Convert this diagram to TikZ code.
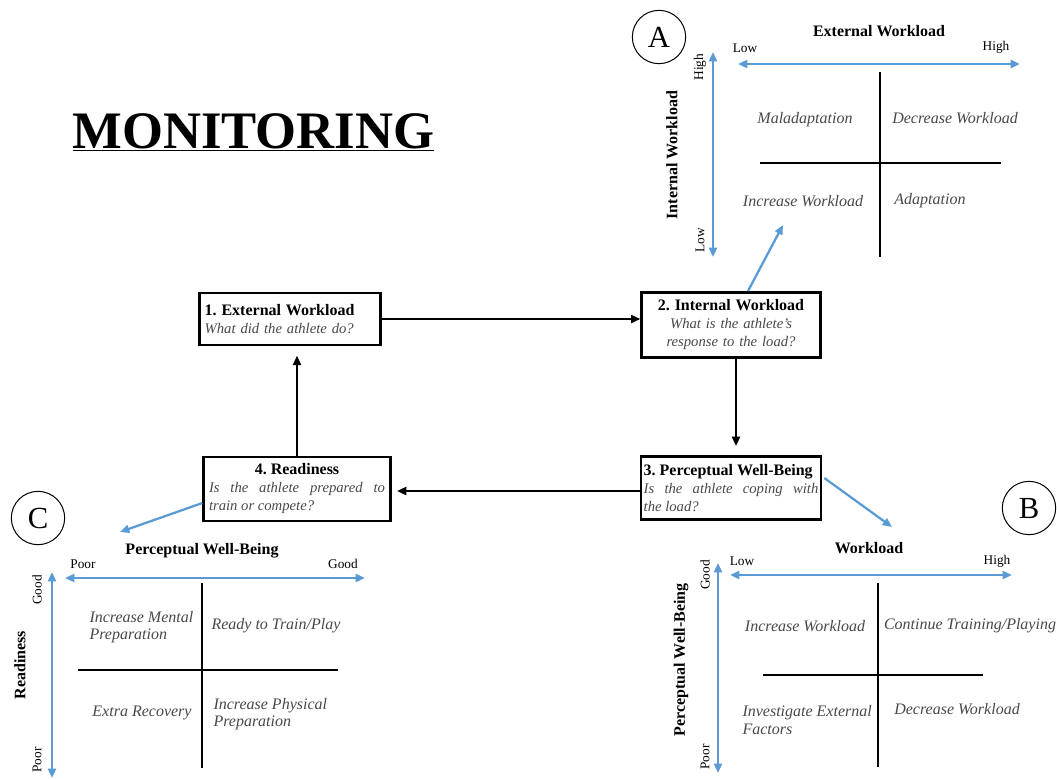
\documentclass[tikz,border=0pt]{standalone}
\usepackage{fontspec}
\setmainfont{Liberation Serif}
\usetikzlibrary{arrows.meta}
\usetikzlibrary{calc}
\frenchspacing
\definecolor{axisblue}{RGB}{91,155,213}
\definecolor{quadgray}{RGB}{72,72,72}
\newcommand{\boxhead}[1]{{\fontsize{12}{13.5}\selectfont\bfseries #1}}
\newcommand{\boxq}[1]{{\fontsize{11}{13.5}\selectfont\itshape\color{quadgray}#1}}
\tikzset{every picture/.style={line width=0.75pt}}
\tikzset{
  loopbox/.style={draw, line width=2pt, inner xsep=4pt, inner ysep=3pt, font=\fontsize{11}{13.5}\selectfont},
  loopline/.style={line width=1.6pt, -{Triangle[length=7pt,width=6pt]}},
  bluearrow/.style={axisblue, line width=1.7pt, -{Triangle[length=7pt,width=6pt]}},
  axis/.style={axisblue, line width=1.7pt, {Triangle[length=7pt,width=6pt]}-{Triangle[length=7pt,width=6pt]}},
  quadline/.style={line width=1.8pt},
  quadtext/.style={inner sep=0.75pt, font=\fontsize{12}{13}\selectfont\itshape, text=quadgray},
  axistitle/.style={inner sep=0.75pt, font=\fontsize{12}{13}\selectfont\bfseries},
  axisend/.style={inner sep=0.75pt, font=\fontsize{10}{11}\selectfont},
  tag/.style={draw, circle, minimum size=40pt, inner sep=0pt, font=\fontsize{23}{24}\selectfont}
}

\begin{document}
\begin{tikzpicture}[x=0.75pt,y=0.75pt,yscale=-1,xscale=1]
\useasboundingbox (0,0) rectangle (1057,779);

% Title
\node [anchor=base west, inner sep=0pt, font=\fontsize{39.5}{41}\selectfont\bfseries] (title) at (72,148) {\underline{MONITORING}};

% Loop boxes
\node [loopbox, text width=128pt, minimum height=39pt, align=left] (ext) at (290,319) {\boxhead{1. External Workload}\\\boxq{What did the athlete do?}};
\node [loopbox, text width=126pt, minimum height=49pt, align=center] (int) at (731,325) {\boxhead{2. Internal Workload}\\\boxq{What is the athlete's\\response to the load?}};
\node [loopbox, inner xsep=2pt, text width=131pt, minimum height=47pt, align=justify] (well) at (731,488) {\boxhead{3. Perceptual Well-Being}\\\boxq{Is the athlete coping with\linebreak the load?}};
\node [loopbox, text width=132pt, minimum height=48pt, align=justify] (ready) at (297,489) {{\centering\boxhead{4. Readiness}\par}\boxq{Is the athlete prepared to\linebreak train or compete?}};

% Loop arrows
\coordinate (intS) at ($(int.south)+(5,0)$);
\coordinate (wellW) at ($(well.west)+(0,3)$);
\draw [loopline] (ext.east) -- (ext.east -| int.west);
\draw [loopline, shorten >=7pt] (intS) -- (intS |- well.north);
\draw [loopline, shorten >=4pt] (wellW) -- (wellW -| ready.east);
\draw [loopline, shorten >=7pt] (ready.north) -- (ready.north |- ext.south);

% Links to the quadrants
\coordinate (toA) at (783,225);
\coordinate (toB) at (892,527);
\coordinate (toC) at (120,532);
\draw [bluearrow] ($(int.north)+(17,0)$) -- (toA);
\draw [bluearrow] ($(well.east)+(2,-10)$) -- (toB);
\draw [bluearrow] ($(ready.west)+(0,14)$) -- (toC);

% Quadrant A
\node [tag] (tagA) at (659,37) {A};
\node [axistitle] (aTitle) at (879,31) {External Workload};
\node [axisend] (aLow) at (745,48) {Low};
\node [axisend] (aHigh) at (996,47) {High};
\coordinate (aL) at (738,64);
\coordinate (aR) at (1020,64);
\draw [axis] (aL) -- (aR);
\coordinate (aT) at (713,52);
\coordinate (aB) at (713,257);
\draw [axis] (aT) -- (aB);
\node [axisend, rotate=90] (aVHigh) at (700,67) {High};
\node [axisend, rotate=90] (aVLow) at (700,240) {Low};
\node [axistitle, rotate=90] (aSide) at (672,155) {Internal Workload};
\coordinate (aV1) at (880,72);
\coordinate (aV2) at (880,257);
\coordinate (aH1) at (760,163);
\coordinate (aH2) at (1001,163);
\draw [quadline] (aV1) -- (aV2);
\draw [quadline] (aH1) -- (aH2);
\node [quadtext] (aq1) at (805,120) {Maladaptation};
\node [quadtext] (aq2) at (955,118) {Decrease Workload};
\node [quadtext] (aq3) at (803,201) {Increase Workload};
\node [quadtext] (aq4) at (930,201) {Adaptation};

% Quadrant B
\node [tag] (tagB) at (1029,508) {B};
\node [axistitle] (bTitle) at (869,548) {Workload};
\node [axisend] (bLow) at (742,561) {Low};
\node [axisend] (bHigh) at (997,561) {High};
\coordinate (bL) at (730,575);
\coordinate (bR) at (1012,575);
\draw [axis] (bL) -- (bR);
\coordinate (bT) at (718,563);
\coordinate (bB) at (718,773);
\draw [axis] (bT) -- (bB);
\node [axisend, rotate=90] (bVGood) at (705,575) {Good};
\node [axisend, rotate=90] (bVPoor) at (705,757) {Poor};
\node [axistitle, rotate=90] (bSide) at (681,660) {Perceptual Well-Being};
\coordinate (bV1) at (878,583);
\coordinate (bV2) at (878,767);
\coordinate (bH1) at (763,675);
\coordinate (bH2) at (983,675);
\draw [quadline] (bV1) -- (bV2);
\draw [quadline] (bH1) -- (bH2);
\node [quadtext] (bq1) at (805,626) {Increase Workload};
\node [quadtext] (bq2) at (970,626) {Continue Training/Playing};
\node [quadtext, anchor=west, align=left] (bq3) at (741,720) {Investigate External\\Factors};
\node [quadtext] (bq4) at (957,709) {Decrease Workload};

% Quadrant C
\node [tag] (tagC) at (38,518) {C};
\node [axistitle] (cTitle) at (202,551) {Perceptual Well-Being};
\node [axisend] (cPoor) at (83,564) {Poor};
\node [axisend] (cGood) at (343,564) {Good};
\coordinate (cL) at (65,578);
\coordinate (cR) at (365,578);
\draw [axis] (cL) -- (cR);
\coordinate (cT) at (52,572);
\coordinate (cB) at (52,778);
\draw [axis] (cT) -- (cB);
\node [axisend, rotate=90] (cVGood) at (37,590) {Good};
\node [axisend, rotate=90] (cVPoor) at (37,760) {Poor};
\node [axistitle, rotate=90] (cSide) at (20,665) {Readiness};
\coordinate (cV1) at (202,583);
\coordinate (cV2) at (202,768);
\coordinate (cH1) at (78,670);
\coordinate (cH2) at (338,670);
\draw [quadline] (cV1) -- (cV2);
\draw [quadline] (cH1) -- (cH2);
\node [quadtext, anchor=west, align=left] (cq1) at (88,627) {Increase Mental\\Preparation};
\node [quadtext] (cq2) at (276,626) {Ready to Train/Play};
\node [quadtext] (cq3) at (142,713) {Extra Recovery};
\node [quadtext, anchor=west, align=left] (cq4) at (212,714) {Increase Physical\\Preparation};

\end{tikzpicture}
\end{document}
